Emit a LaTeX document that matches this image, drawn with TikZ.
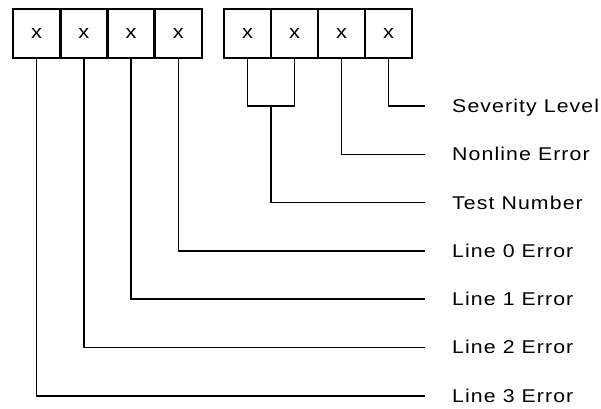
\documentclass[tikz,border=0pt]{standalone}
\usepackage{fontspec}
\setmainfont{Liberation Sans}[FakeStretch=1.15,LetterSpace=6]
\usetikzlibrary{positioning, calc}

\tikzset{
  bit/.style={draw, line width=2.4pt, minimum width=47pt, minimum height=49pt, inner sep=0pt, font=\fontsize{19}{21}\selectfont},
  wire/.style={line width=1.6pt},
  lbl/.style={anchor=base west, inner sep=0pt, yshift=-6.4pt, font=\fontsize{18.5}{20}\selectfont}
}

\begin{document}
\begin{tikzpicture}[x=1pt, y=-1pt]
  \useasboundingbox (0,0) rectangle (601,408);

  % status byte, two groups of four bits
  \foreach \i/\x in {1/36.6, 2/83.9, 3/131.1, 4/178.4, 5/247.5, 6/294.5, 7/341.5, 8/388.5}
    \node[bit] (b\i) at (\x,33.5) {x};

  % ends of the wires and their labels
  \foreach \k/\y/\txt in {1/106/Severity Level, 2/154.3/Nonline Error, 3/202.6/Test Number,
                          4/250.9/Line 0 Error, 5/299.2/Line 1 Error, 6/347.5/Line 2 Error, 7/395.8/Line 3 Error} {
    \coordinate (e\k) at (425,\y);
    \node[lbl] (l\k) at (452,\y) {\txt};
  }

  % bracket for the test number
  \path (b5.south) -- (b6.south) coordinate[midway] (mid);
  \coordinate (tn) at (mid |- e1);
  \draw[wire] (b5.south) |- (tn) -| (b6.south);
  \draw[wire] (tn) |- (e3);

  \draw[wire] (b8.south) |- (e1);
  \draw[wire] (b7.south) |- (e2);
  \draw[wire] (b4.south) |- (e4);
  \draw[wire] (b3.south) |- (e5);
  \draw[wire] (b2.south) |- (e6);
  \draw[wire] (b1.south) |- (e7);
\end{tikzpicture}
\end{document}
